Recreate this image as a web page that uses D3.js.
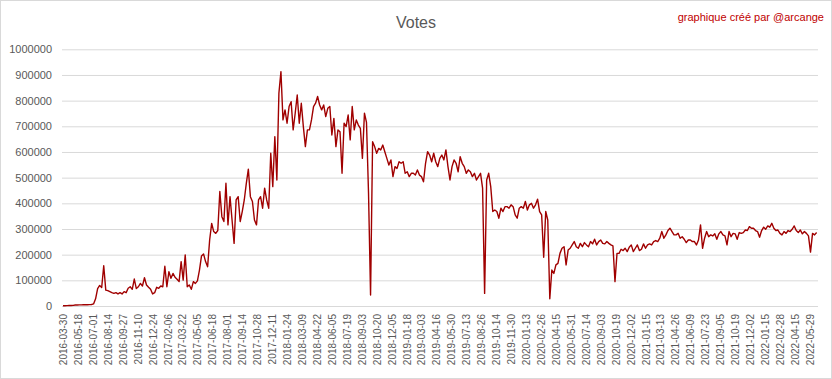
<!DOCTYPE html>
<html lang="fr">
<head>
    <meta charset="UTF-8">
    <title>Votes</title>
    <script src="https://d3js.org/d3.v7.min.js"></script>
    <style>
        body { margin: 0; background: #fff; }
        text { font-family: "Liberation Sans", Arial, sans-serif; }
    </style>
</head>
<body>
    <script>
        // one x label every 44 days (category axis)
        var dateLabels = [
            "2016-03-30", "2016-05-18", "2016-07-01", "2016-08-14", "2016-09-27", "2016-11-10", "2016-12-24",
            "2017-02-06", "2017-03-22", "2017-05-05", "2017-06-18", "2017-08-01", "2017-09-14", "2017-10-28", "2017-12-11",
            "2018-01-24", "2018-03-09", "2018-04-22", "2018-06-05", "2018-07-19", "2018-09-03", "2018-10-20", "2018-12-05",
            "2019-01-18", "2019-03-03", "2019-04-16", "2019-05-30", "2019-07-13", "2019-08-26", "2019-10-14", "2019-11-30",
            "2020-01-13", "2020-02-26", "2020-04-15", "2020-05-31", "2020-07-14", "2020-09-03", "2020-10-19", "2020-12-02",
            "2021-01-15", "2021-03-13", "2021-04-26", "2021-06-09", "2021-07-23", "2021-09-05", "2021-10-19", "2021-12-02",
            "2022-01-15", "2022-02-28", "2022-04-15", "2022-05-29"
        ];
        var labelEvery = 44;
        var dayCount = 2223;

        // votes, one reading every 6 days
        var daysPerPoint = 6;
        var votes = [
            1000, 1000, 1500, 2000, 2000, 2500, 4000, 4000, 4500, 4500,
            5000, 5000, 5000, 5500, 6000, 8000, 28000, 68000, 80000, 72000,
            157000, 62000, 60000, 56000, 52000, 49000, 52000, 47000, 52000, 47000,
            56000, 52000, 69000, 75000, 65000, 105000, 68000, 75000, 88000, 78000,
            110000, 82000, 73000, 65000, 47000, 52000, 73000, 69000, 78000, 75000,
            155000, 75000, 134000, 108000, 127000, 112000, 104000, 95000, 173000, 101000,
            199000, 75000, 82000, 65000, 95000, 88000, 98000, 140000, 195000, 203000,
            173000, 153000, 257000, 322000, 290000, 283000, 294000, 446000, 348000, 329000,
            478000, 316000, 426000, 335000, 244000, 413000, 426000, 329000, 368000, 413000,
            478000, 533000, 426000, 407000, 335000, 316000, 413000, 426000, 381000, 459000,
            413000, 381000, 595000, 465000, 660000, 491000, 829000, 913000, 725000, 764000,
            712000, 777000, 796000, 686000, 751000, 822000, 712000, 790000, 699000, 621000,
            686000, 686000, 725000, 777000, 790000, 816000, 783000, 764000, 783000, 738000,
            770000, 777000, 666000, 731000, 621000, 686000, 679000, 517000, 712000, 699000,
            744000, 647000, 777000, 686000, 725000, 705000, 692000, 575000, 751000, 715000,
            440000, 43000, 640000, 621000, 595000, 614000, 608000, 627000, 601000, 575000,
            549000, 569000, 504000, 543000, 536000, 562000, 556000, 562000, 517000, 523000,
            504000, 517000, 517000, 510000, 530000, 510000, 504000, 484000, 556000, 601000,
            588000, 562000, 595000, 562000, 543000, 575000, 588000, 569000, 608000, 543000,
            491000, 543000, 569000, 556000, 523000, 582000, 556000, 543000, 517000, 530000,
            523000, 504000, 517000, 491000, 504000, 517000, 459000, 49000, 491000, 517000,
            465000, 368000, 374000, 368000, 342000, 381000, 368000, 387000, 387000, 381000,
            394000, 387000, 355000, 342000, 381000, 387000, 381000, 407000, 374000, 394000,
            400000, 381000, 394000, 416000, 368000, 355000, 190000, 368000, 335000, 28000,
            140000, 127000, 160000, 166000, 205000, 225000, 231000, 160000, 218000, 225000,
            238000, 251000, 231000, 225000, 244000, 231000, 247000, 238000, 231000, 251000,
            242000, 260000, 238000, 251000, 257000, 244000, 242000, 251000, 244000, 238000,
            234000, 95000, 205000, 205000, 221000, 216000, 225000, 212000, 229000, 238000,
            212000, 225000, 238000, 216000, 221000, 242000, 225000, 238000, 242000, 238000,
            251000, 255000, 251000, 264000, 290000, 264000, 277000, 294000, 303000, 290000,
            277000, 277000, 283000, 264000, 270000, 260000, 247000, 257000, 257000, 251000,
            251000, 238000, 257000, 316000, 225000, 264000, 290000, 270000, 277000, 273000,
            281000, 260000, 281000, 290000, 277000, 273000, 238000, 290000, 270000, 283000,
            281000, 260000, 286000, 283000, 286000, 296000, 294000, 309000, 303000, 303000,
            294000, 290000, 268000, 294000, 307000, 299000, 312000, 307000, 322000, 303000,
            294000, 296000, 283000, 277000, 290000, 283000, 294000, 290000, 299000, 312000,
            294000, 286000, 296000, 281000, 290000, 283000, 273000, 210000, 283000, 277000,
            286000
        ];
        var yTicks = d3.range(0, 1000001, 100000);

        var width = 832;
        var height = 379;
        var plotLeft = 62, plotRight = 818, plotTop = 49.3, plotBottom = 306;

        var svg = d3.select("body").append("svg")
            .attr("width", width)
            .attr("height", height);

        // chart area border
        svg.append("rect")
            .attr("x", 0.5).attr("y", 0.5)
            .attr("width", width - 1).attr("height", height - 1)
            .attr("fill", "#fff")
            .attr("stroke", "#d9d9d9");

        var x = d3.scaleLinear().domain([0, dayCount - 1]).range([63, 817.3]);
        var y = d3.scaleLinear().domain([0, 1000000]).range([plotBottom, plotTop]);

        // y axis + gridlines
        var yAxis = svg.append("g")
            .attr("transform", "translate(" + plotLeft + ",0)")
            .call(d3.axisLeft(y).tickValues(yTicks).tickFormat(d3.format("d"))
                .tickSize(-(plotRight - plotLeft)).tickPadding(10));
        yAxis.select(".domain").remove();
        yAxis.selectAll("line").attr("stroke", "#d9d9d9");
        yAxis.selectAll("text")
            .attr("fill", "#595959")
            .style("font-size", "11px");

        // x axis with rotated date labels
        var xAxis = svg.append("g")
            .attr("transform", "translate(0," + plotBottom + ")")
            .call(d3.axisBottom(x)
                .tickValues(dateLabels.map(function(d, i) { return i * labelEvery; }))
                .tickFormat(function(d, i) { return dateLabels[i]; })
                .tickSize(0));
        xAxis.select(".domain").remove();
        xAxis.selectAll("text")
            .attr("fill", "#595959")
            .style("font-size", "10px")
            .attr("text-anchor", "end")
            .attr("transform", "translate(0,8) rotate(-90)")
            .attr("x", 0)
            .attr("y", 0)
            .attr("dy", "0.35em");

        // the line
        var line = d3.line()
            .x(function(d, i) { return x(i * daysPerPoint); })
            .y(function(d) { return y(d); });

        svg.append("path")
            .datum(votes)
            .attr("fill", "none")
            .attr("stroke", "#a00000")
            .attr("stroke-width", 1.4)
            .attr("stroke-linejoin", "round")
            .attr("d", line);

        // titles
        svg.append("text")
            .attr("x", 416)
            .attr("y", 28)
            .attr("text-anchor", "middle")
            .attr("fill", "#595959")
            .style("font-size", "16px")
            .text("Votes");

        svg.append("text")
            .attr("x", 824)
            .attr("y", 21)
            .attr("text-anchor", "end")
            .attr("fill", "#c00000")
            .style("font-size", "11px")
            .text("graphique créé par @arcange");
    </script>
</body>
</html>
